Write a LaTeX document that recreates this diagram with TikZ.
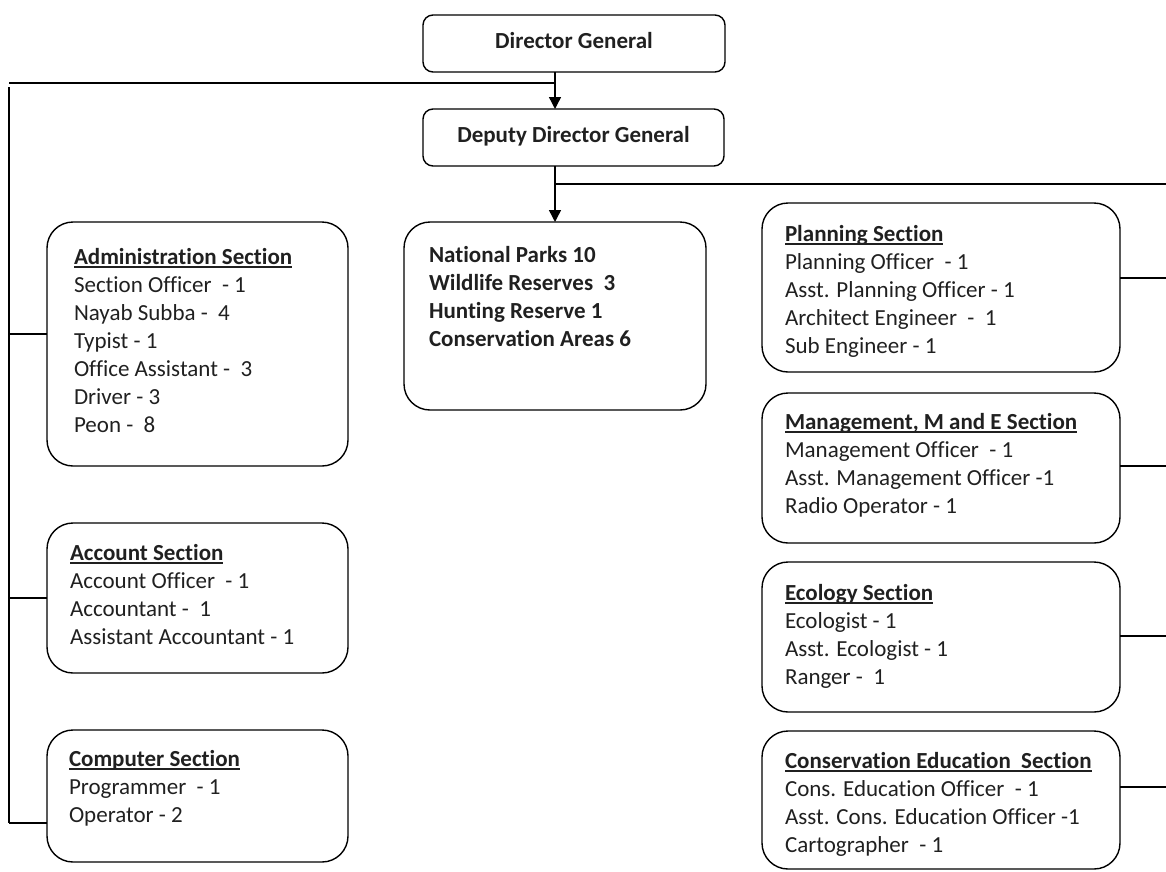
\documentclass[tikz,border=0pt]{standalone}
\usepackage{fontspec}
\setmainfont[Ligatures=NoCommon]{Carlito}
\usetikzlibrary{arrows.meta}
\definecolor{txt}{HTML}{202020}
\newcommand\myul[1]{\setbox0\hbox{#1}\rlap{\rule[-4pt]{\wd0}{1.6pt}}\box0}
\tikzset{
  box/.style={draw=black, line width=1.4pt, inner sep=0pt, outer sep=0pt, anchor=north west, rounded corners=26pt},
  topbox/.style={draw=black, line width=1.4pt, inner sep=0pt, outer sep=0pt, anchor=north west, rounded corners=10pt,
     font=\fontsize{23}{28}\selectfont\bfseries, text=txt, text height=15pt, text depth=5pt},
  lbl/.style={anchor=north west, inner sep=0pt, outer sep=0pt, align=left, text=txt,
     font=\fontsize{23}{28}\selectfont},
  conn/.style={line width=1.4pt, draw=black},
  arr/.style={conn, -{Triangle[length=12pt,width=12pt]}}
}
\newcommand\fs{\rule{0pt}{20pt}}
\begin{document}
\begin{tikzpicture}[x=1pt,y=-1pt]
\useasboundingbox (0,0) rectangle (1166,871);
% top boxes
\node[topbox, minimum width=302pt, minimum height=57pt] (dg) at (423,15) {Director General};
\node[topbox, minimum width=301pt, minimum height=57pt] (ddg) at (423,109) {Deputy Director General};
% main boxes
\node[box, minimum width=302pt, minimum height=188pt] (np) at (404,222) {};
\node[box, minimum width=301pt, minimum height=244pt] (adm) at (47,222) {};
\node[box, minimum width=301pt, minimum height=150pt] (acc) at (47,523) {};
\node[box, minimum width=301pt, minimum height=132pt] (cmp) at (47,730) {};
\node[box, minimum width=358pt, minimum height=169pt] (pln) at (762,203) {};
\node[box, minimum width=358pt, minimum height=150pt] (mgt) at (762,393) {};
\node[box, minimum width=358pt, minimum height=150pt] (eco) at (762,562) {};
\node[box, minimum width=358pt, minimum height=138pt] (cse) at (762,731) {};
% texts
\node[lbl, font=\fontsize{23}{28}\selectfont\bfseries] (npt) at (429,242) {\fs National Parks 10\\Wildlife Reserves\ \ 3\\Hunting Reserve 1\\Conservation Areas 6};
\node[lbl] (admt) at (74,244) {\fs\myul{\textbf{Administration Section}}\\Section Officer\ \ - 1\\Nayab Subba -\ \ 4\\Typist - 1\\Office Assistant -\ \ 3\\Driver - 3\\Peon -\ \ 8};
\node[lbl] (acct) at (70,540) {\fs\myul{\textbf{Account Section}}\\Account Officer\ \ - 1\\Accountant -\ \ 1\\Assistant Accountant - 1};
\node[lbl] (cmpt) at (69,746) {\fs\myul{\textbf{Computer Section}}\\Programmer\ \ - 1\\Operator - 2};
\node[lbl] (plnt) at (785,221) {\fs\myul{\textbf{Planning Section}}\\Planning Officer\ \ - 1\\Asst. Planning Officer - 1\\Architect Engineer\ \ -\ \ 1\\Sub Engineer - 1};
\node[lbl] (mgtt) at (785,409) {\fs\myul{\textbf{Management, M and E Section}}\\Management Officer\ \ - 1\\Asst. Management Officer -1\\Radio Operator - 1};
\node[lbl] (ecot) at (785,580) {\fs\myul{\textbf{Ecology Section}}\\Ecologist - 1\\Asst. Ecologist - 1\\Ranger -\ \ 1};
\node[lbl] (cset) at (785,748) {\fs\myul{\textbf{Conservation Education\ \ Section}}\\Cons. Education Officer\ \ - 1\\Asst. Cons. Education Officer -1\\Cartographer\ \ - 1};
% coordinates
\coordinate (a1) at (555,83);
\coordinate (lt) at (9,83);
\coordinate (lb) at (9,823);
\coordinate (la) at (9,334);
\coordinate (lc) at (9,598);
\coordinate (r0) at (555,184);
\coordinate (re) at (1166,184);
\coordinate (rp) at (1166,278);
\coordinate (rm) at (1166,466);
\coordinate (rc) at (1166,636);
\coordinate (rd) at (1166,787);
% connectors
\draw[arr] (dg.south -| a1) -- (ddg.north -| a1);
\draw[conn] (lt) -- (a1);
\draw[conn] (9,87) -- (lb);
\draw[conn] (la) -- (la -| adm.west);
\draw[conn] (lc) -- (lc -| acc.west);
\draw[conn] (lb) -- (lb -| cmp.west);
\draw[arr] (ddg.south -| a1) -- (np.north);
\draw[conn] (r0) -- (re);
\draw[conn] (rp -| pln.east) -- (rp);
\draw[conn] (rm -| mgt.east) -- (rm);
\draw[conn] (rc -| eco.east) -- (rc);
\draw[conn] (rd -| cse.east) -- (rd);
\end{tikzpicture}
\end{document}
